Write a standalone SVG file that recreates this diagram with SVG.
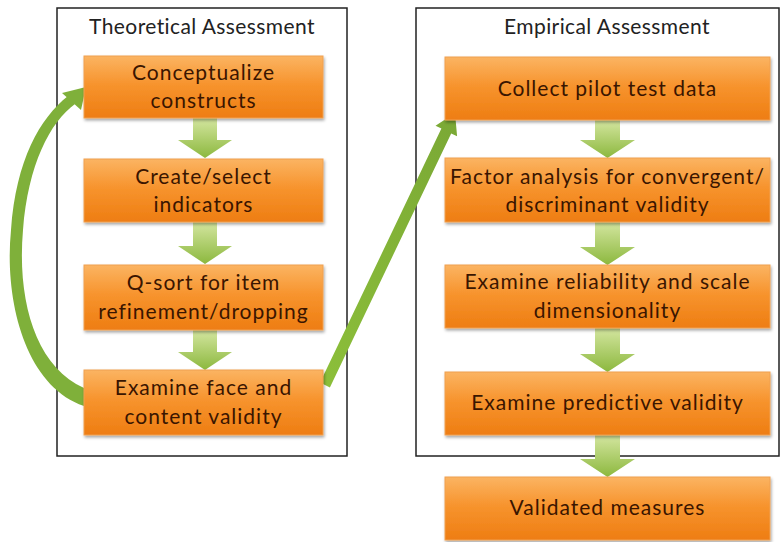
<svg xmlns="http://www.w3.org/2000/svg" width="782" height="542" viewBox="0 0 782 542">
<defs>
<linearGradient id="og" x1="0" y1="0" x2="0" y2="1">
<stop offset="0" stop-color="#fbb462"/>
<stop offset="0.45" stop-color="#f7942e"/>
<stop offset="1" stop-color="#ee7d12"/>
</linearGradient>
<linearGradient id="gg" x1="0" y1="0" x2="0" y2="1">
<stop offset="0" stop-color="#d4e6a0"/>
<stop offset="1" stop-color="#8cb83e"/>
</linearGradient>
<linearGradient id="gd" x1="0" y1="1" x2="1" y2="0">
<stop offset="0" stop-color="#8cbf3a"/>
<stop offset="1" stop-color="#7aa835"/>
</linearGradient>
<filter id="sh" x="-10%" y="-20%" width="120%" height="150%">
<feDropShadow dx="1" dy="2" stdDeviation="1.5" flood-color="#000" flood-opacity="0.35"/>
</filter>
</defs>
<style>
.frame{fill:#fff;stroke:#222;stroke-width:1.5}
.box{fill:url(#og);stroke:#f0a050;stroke-width:1;filter:url(#sh)}
.t{font-family:Lato,"Liberation Sans",sans-serif;font-size:21px;letter-spacing:1px;fill:#3a1500;text-anchor:middle}
.title{font-family:Lato,"Liberation Sans",sans-serif;font-size:21px;letter-spacing:0.4px;fill:#222;text-anchor:middle}
.dn{fill:url(#gg)}
</style>
<rect width="782" height="542" fill="#fff"/>
<g id="frames">
<rect id="theoretical" class="frame" x="57" y="8" width="290" height="448"/>
<rect id="empirical" class="frame" x="416" y="8" width="363" height="448"/>
<text class="title" x="202" y="34">Theoretical Assessment</text>
<text class="title" x="607" y="34">Empirical Assessment</text>
</g>
<g id="connectors">
<path class="dn" d="M193,118 h24 v22 h15 l-27,18 l-27,-18 h15 z"/>
<path class="dn" d="M193,222 h24 v24 h15 l-27,18 l-27,-18 h15 z"/>
<path class="dn" d="M193,330 h24 v22 h15 l-27,18 l-27,-18 h15 z"/>
<path class="dn" d="M595,120 h25 v20 h15 l-27.5,18 l-27.5,-18 h15 z"/>
<path class="dn" d="M595,222 h25 v25 h15 l-27.5,18 l-27.5,-18 h15 z"/>
<path class="dn" d="M595,328 h25 v26 h15 l-27.5,18 l-27.5,-18 h15 z"/>
<path class="dn" d="M595,435 h25 v24 h15 l-27.5,18 l-27.5,-18 h15 z"/>
<path d="M84,406 C25,386 4,300 11,230 C16,160 40,118 68,96 L75,104 C50,122 28,165 23,230 C17,300 35,366 84,388 Z" fill="#7fb03a"/>
<polygon points="86,87 81,110 62,93" fill="#7fb03a"/>
<polygon points="320.1,382.6 441.4,128.6 435.5,125.8 455,113 457.1,136.2 451.2,133.4 329.9,387.4" fill="url(#gd)"/>
</g>
<g id="n1"><rect class="box" x="84" y="56" width="239" height="62"/><text class="t" x="203.5" y="80">Conceptualize</text><text class="t" x="203.5" y="108">constructs</text></g>
<g id="n2"><rect class="box" x="84" y="159" width="239" height="63"/><text class="t" x="203.5" y="184">Create/select</text><text class="t" x="203.5" y="212">indicators</text></g>
<g id="n3"><rect class="box" x="84" y="265" width="239" height="65"/><text class="t" x="203.5" y="290">Q-sort for item</text><text class="t" x="203.5" y="319">refinement/dropping</text></g>
<g id="n4"><rect class="box" x="84" y="370" width="239" height="65"/><text class="t" x="203.5" y="395">Examine face and</text><text class="t" x="203.5" y="424">content validity</text></g>
<g id="n5"><rect class="box" x="445" y="57" width="325" height="63"/><text class="t" x="607.5" y="96">Collect pilot test data</text></g>
<g id="n6"><rect class="box" x="445" y="158" width="325" height="64"/><text class="t" x="607.5" y="184">Factor analysis for convergent/</text><text class="t" x="607.5" y="212">discriminant validity</text></g>
<g id="n7"><rect class="box" x="445" y="265" width="325" height="63"/><text class="t" x="607.5" y="289">Examine reliability and scale</text><text class="t" x="607.5" y="318">dimensionality</text></g>
<g id="n8"><rect class="box" x="445" y="372" width="325" height="63"/><text class="t" x="607.5" y="410">Examine predictive validity</text></g>
<g id="n9"><rect class="box" x="445" y="477" width="325" height="63"/><text class="t" x="607.5" y="515">Validated measures</text></g>
</svg>
